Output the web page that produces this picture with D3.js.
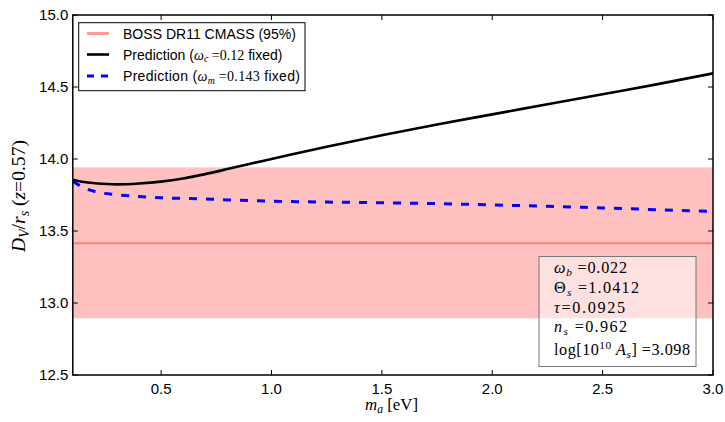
<!DOCTYPE html>
<html><head><meta charset="utf-8">
<script src="https://cdn.jsdelivr.net/npm/d3@7"></script>
<style>body{margin:0;background:#fff}svg{display:block}</style>
</head><body>
<svg id="c" width="725" height="422"></svg>
<script>
const massX = [0.1,0.15,0.2,0.3,0.4,0.5,0.6,0.7,0.8,0.9,1.0,1.25,1.5,1.75,2.0,2.25,2.5,2.75,3.0];
const predOmegaC = [13.856,13.84,13.832,13.824,13.83,13.843,13.865,13.895,13.93,13.966,14.0,14.085,14.165,14.24,14.31,14.38,14.45,14.52,14.595];
const predOmegaM = [13.845,13.80,13.774,13.752,13.739,13.731,13.726,13.722,13.716,13.711,13.707,13.701,13.696,13.69,13.681,13.672,13.66,13.648,13.636];
const bossCenter = 13.415, bossLow = 12.894, bossHigh = 13.942;
const xTicks = [0.5,1.0,1.5,2.0,2.5,3.0];
const yTicks = [12.5,13.0,13.5,14.0,14.5,15.0];

const svg = d3.select('#c');
const L=72.8, R=713, T=15, B=375;
const x = d3.scaleLinear().domain([0.1,3.0]).range([L,R]);
const y = d3.scaleLinear().domain([12.5,15.0]).range([B,T]);
const sans = "'Liberation Sans', Arial, sans-serif";
const serif = "'Liberation Serif', 'DejaVu Serif', serif";

svg.append('defs').append('clipPath').attr('id','clip').append('rect').attr('x',L).attr('y',T).attr('width',R-L).attr('height',B-T);
const g = svg.append('g').attr('clip-path','url(#clip)');

g.append('rect').attr('x',L).attr('width',R-L).attr('y',y(bossHigh)).attr('height',y(bossLow)-y(bossHigh)).attr('fill','#ffc0c0');
g.append('line').attr('x1',L).attr('x2',R).attr('y1',y(bossCenter)).attr('y2',y(bossCenter)).attr('stroke','#ff8080').attr('stroke-width',2);

const line = d3.line().x((d,i)=>x(massX[i])).y(d=>y(d)).curve(d3.curveMonotoneX);
g.append('path').attr('d',line(predOmegaC)).attr('fill','none').attr('stroke','#000').attr('stroke-width',2.6);
g.append('path').attr('d',line(predOmegaM)).attr('fill','none').attr('stroke','#0000ff').attr('stroke-width',3).attr('stroke-dasharray','8,9');

// axes
const ax = svg.append('g').attr('font-family',sans).attr('font-size',15);
const tl=5;
xTicks.forEach(t=>{
  ax.append('line').attr('x1',x(t)).attr('x2',x(t)).attr('y1',B).attr('y2',B-tl).attr('stroke','#000');
  ax.append('line').attr('x1',x(t)).attr('x2',x(t)).attr('y1',T).attr('y2',T+tl).attr('stroke','#000');
  ax.append('text').attr('x',x(t)).attr('y',B+18.5).attr('text-anchor','middle').text(t.toFixed(1));
});
yTicks.forEach(t=>{
  ax.append('line').attr('x1',L).attr('x2',L+tl).attr('y1',y(t)).attr('y2',y(t)).attr('stroke','#000');
  ax.append('line').attr('x1',R).attr('x2',R-tl).attr('y1',y(t)).attr('y2',y(t)).attr('stroke','#000');
  ax.append('text').attr('x',L-4.5).attr('y',y(t)+5.4).attr('text-anchor','end').text(t.toFixed(1));
});

function mathLine(parent, xx, yy, parts, fs){
  const t = parent.append('text').attr('x',xx).attr('y',yy).attr('font-family',serif).attr('font-size',fs).style('white-space','pre');
  parts.forEach(p=>{
    const s = t.append('tspan').text(p.t);
    if(p.i) s.attr('font-style','italic');
    if(p.f) s.attr('font-family',p.f);
    let dy = 0;
    if(p.sub){ s.attr('font-size',fs*0.7); dy += fs*0.2; }
    if(p.sup){ s.attr('font-size',fs*0.7); dy -= fs*0.35; }
    if(p.back!==undefined){ dy += p.back*fs; }
    if(dy) s.attr('dy',dy);
  });
  return t;
}
function fitScale(parent, parts, fs, target){
  const t = mathLine(parent,0,0,parts,fs);
  const w = t.node().getComputedTextLength();
  t.remove();
  return fs*target/w;
}

// params box
const pb = svg.append('g');
pb.append('rect').attr('x',539).attr('y',256.5).attr('width',157).attr('height',110).attr('fill','rgba(255,255,255,0.5)').attr('stroke','#777').attr('stroke-width',1);
const pLines = [
  [{t:'ω',i:1},{t:'b',i:1,sub:1},{t:' =0.022',back:-0.2}],
  [{t:'Θ'},{t:'s',i:1,sub:1},{t:' =1.0412',back:-0.2}],
  [{t:'τ',i:1},{t:'=0.0925'}],
  [{t:'n',i:1},{t:'s',i:1,sub:1},{t:' =0.962',back:-0.2}],
  [{t:'log[10'},{t:'10',sup:1},{t:' A',i:1,back:0.35},{t:'s',i:1,sub:1},{t:']',back:-0.2},{t:' =3.098'}]
];
const pWidths = [73,85,71,73,136];
const pY = [273,293,313,332,355];
pLines.forEach((pl,i)=>mathLine(pb,554,pY[i],pl,16.2).attr('textLength',pWidths[i]).attr('lengthAdjust','spacing'));

// legend
const lg = svg.append('g');
lg.append('rect').attr('x',78.7).attr('y',22.7).attr('width',226.3).attr('height',68).attr('fill','#fff').attr('stroke','#000').attr('stroke-width',1);
const rows=[33.5,54.5,76];
lg.append('line').attr('x1',87).attr('x2',109).attr('y1',rows[0]).attr('y2',rows[0]).attr('stroke','#ff9a9a').attr('stroke-width',3);
lg.append('line').attr('x1',87).attr('x2',109).attr('y1',rows[1]).attr('y2',rows[1]).attr('stroke','#000').attr('stroke-width',2.6);
lg.append('line').attr('x1',87).attr('x2',109).attr('y1',rows[2]).attr('y2',rows[2]).attr('stroke','#0000ff').attr('stroke-width',3).attr('stroke-dasharray','7,7');
const legParts = [
  [{t:'BOSS DR11 CMASS (95%)',f:sans}],
  [{t:'Prediction (',f:sans},{t:'ω',i:1},{t:'c',i:1,sub:1},{t:' =0.12',back:-0.2},{t:' fixed)',f:sans}],
  [{t:'Prediction (',f:sans},{t:'ω',i:1},{t:'m',i:1,sub:1},{t:' =0.143',back:-0.2},{t:' fixed)',f:sans}]
];
const lfs = fitScale(lg, legParts[0], 13, 173);
legParts.forEach((lp,i)=>{
  const t = mathLine(lg,123,rows[i]+5,lp,lfs);
  if(i===2) t.attr('textLength',177).attr('lengthAdjust','spacing');
});

// frame
svg.append('rect').attr('x',L).attr('y',T).attr('width',R-L).attr('height',B-T).attr('fill','none').attr('stroke','#000').attr('stroke-width',1.5);

// axis labels
const xlParts = [{t:'m',i:1},{t:'a',i:1,sub:1},{t:' [eV]',back:-0.2}];
const xfs = fitScale(svg, xlParts, 16, 53);
mathLine(svg,365,410,xlParts,xfs);
const ylParts = [{t:'D',i:1},{t:'V',i:1,sub:1},{t:'/',back:-0.2},{t:'r',i:1},{t:'s',i:1,sub:1},{t:' (',back:-0.2},{t:'z',i:1},{t:'=0.57)'}];
const yfs = fitScale(svg, ylParts, 16, 112);
const yl = mathLine(svg,0,0,ylParts,yfs);
yl.attr('text-anchor','middle').attr('transform','translate(25,196) rotate(-90)');
</script>
</body></html>
